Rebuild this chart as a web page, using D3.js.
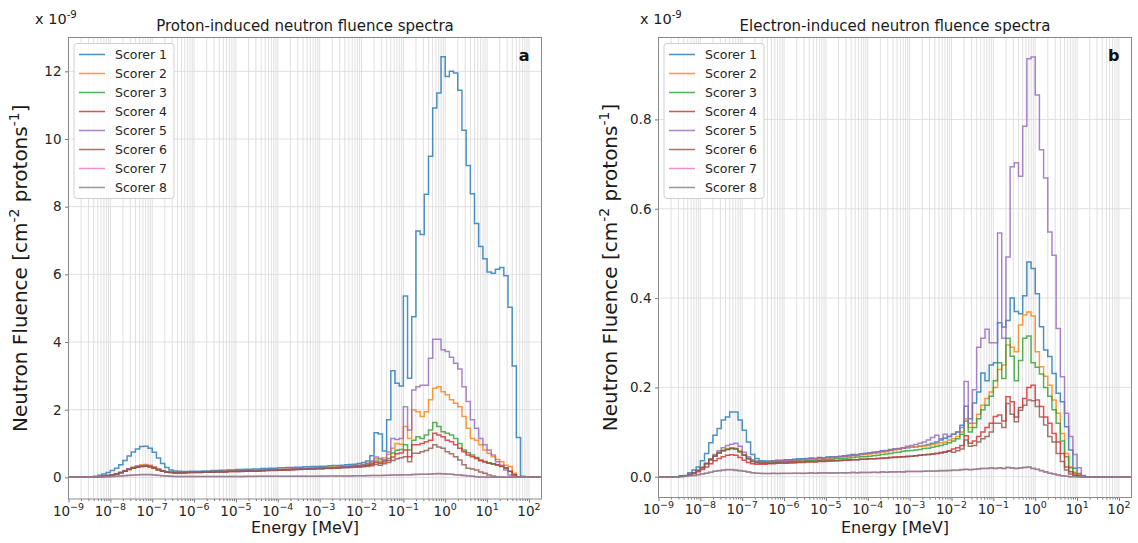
<!DOCTYPE html>
<html>
<head>
<meta charset="utf-8">
<script src="https://cdn.jsdelivr.net/npm/d3@7"></script>
<style>
  body { margin: 0; background: #ffffff; }
  text { font-family: "DejaVu Sans", sans-serif; }
</style>
</head>
<body>
<svg id="chart" width="1138" height="543"></svg>
<script>
// ---- binning: 10 logarithmic bins per decade starting at 1e-9 MeV ----
const logEnergyMin = -9;
const binsPerDecade = 10;
const binCount = 113;

const seriesNames = ["Scorer 1", "Scorer 2", "Scorer 3", "Scorer 4", "Scorer 5", "Scorer 6", "Scorer 7", "Scorer 8"];
const seriesColors = ["#1f77b4", "#ff7f0e", "#2ca02c", "#d62728", "#9467bd", "#8c564b", "#e377c2", "#7f7f7f"];

const xTickExponents = [-9, -8, -7, -6, -5, -4, -3, -2, -1, 0, 1, 2];
const protonYTicks = [0, 2, 4, 6, 8, 10, 12];
const electronYTicks = [0.0, 0.2, 0.4, 0.6, 0.8];

// ---- proton-induced fluence per bin (x 1e-9 cm^-2 protons^-1), one row per decade ----
const protonScorer1 = [
  0, 0, 0, 0, 0.005, 0.015, 0.03, 0.06, 0.1, 0.145,
  0.2, 0.27, 0.37, 0.5, 0.63, 0.75, 0.84, 0.91, 0.92, 0.86,
  0.74, 0.57, 0.41, 0.29, 0.22, 0.19, 0.18, 0.17, 0.17, 0.18,
  0.18, 0.18, 0.19, 0.19, 0.2, 0.2, 0.21, 0.21, 0.22, 0.22,
  0.23, 0.23, 0.24, 0.24, 0.25, 0.25, 0.26, 0.26, 0.27, 0.27,
  0.28, 0.28, 0.29, 0.29, 0.3, 0.3, 0.31, 0.31, 0.32, 0.32,
  0.33, 0.33, 0.34, 0.35, 0.35, 0.36, 0.37, 0.38, 0.39, 0.41,
  0.44, 0.48, 0.64, 1.32, 1.28, 0.78, 1.7, 3.15, 2.78, 2.7,
  5.36, 2.93, 4.75, 7.28, 7.18, 8.37, 9.49, 10.92, 11.36, 12.43,
  11.85, 12.0, 11.95, 11.44, 10.26, 9.22, 8.38, 7.5, 6.82, 6.46,
  6.07, 6.03, 6.15, 6.2, 5.96, 5.03, 3.29, 1.18, 0.03, 0,
  0, 0, 0
];
const protonScorer2 = [
  0, 0, 0, 0, 0.002, 0.006, 0.012, 0.022, 0.036, 0.055,
  0.08, 0.11, 0.15, 0.2, 0.25, 0.3, 0.34, 0.37, 0.38, 0.36,
  0.31, 0.25, 0.2, 0.17, 0.15, 0.14, 0.14, 0.14, 0.15, 0.15,
  0.15, 0.16, 0.16, 0.16, 0.17, 0.17, 0.17, 0.18, 0.18, 0.18,
  0.19, 0.19, 0.2, 0.2, 0.2, 0.21, 0.21, 0.22, 0.22, 0.23,
  0.23, 0.24, 0.24, 0.25, 0.25, 0.26, 0.26, 0.27, 0.27, 0.28,
  0.28, 0.29, 0.3, 0.3, 0.31, 0.32, 0.33, 0.34, 0.35, 0.36,
  0.38, 0.41, 0.45, 0.55, 0.52, 0.58, 0.68, 0.86, 1.0, 0.98,
  1.5, 1.15, 1.99, 1.94, 1.8, 1.94, 2.29, 2.63, 2.68, 2.53,
  2.44, 2.29, 2.19, 2.09, 1.8, 1.45, 1.15, 1.1, 0.96, 0.81,
  0.71, 0.61, 0.53, 0.46, 0.36, 0.32, 0.12, 0.02, 0, 0,
  0, 0, 0
];
const protonScorer3 = [
  0, 0, 0, 0, 0.002, 0.005, 0.011, 0.02, 0.034, 0.052,
  0.076, 0.105, 0.14, 0.19, 0.24, 0.28, 0.31, 0.33, 0.34, 0.32,
  0.28, 0.23, 0.19, 0.16, 0.15, 0.14, 0.14, 0.14, 0.14, 0.15,
  0.15, 0.15, 0.16, 0.16, 0.16, 0.17, 0.17, 0.17, 0.18, 0.18,
  0.18, 0.19, 0.19, 0.2, 0.2, 0.2, 0.21, 0.21, 0.22, 0.22,
  0.22, 0.23, 0.23, 0.24, 0.24, 0.25, 0.25, 0.26, 0.26, 0.27,
  0.27, 0.28, 0.28, 0.29, 0.29, 0.3, 0.31, 0.32, 0.33, 0.34,
  0.36, 0.38, 0.42, 0.48, 0.45, 0.5, 0.56, 0.72, 0.8, 0.82,
  0.96, 0.81, 1.1, 1.2, 1.15, 1.25, 1.4, 1.62, 1.5, 1.35,
  1.3, 1.25, 1.15, 1.0, 0.81, 0.73, 0.66, 0.59, 0.51, 0.47,
  0.43, 0.39, 0.36, 0.32, 0.27, 0.17, 0.07, 0.02, 0, 0,
  0, 0, 0
];
const protonScorer4 = [
  0, 0, 0, 0, 0.002, 0.005, 0.011, 0.02, 0.033, 0.05,
  0.073, 0.1, 0.135, 0.18, 0.23, 0.27, 0.3, 0.32, 0.33, 0.31,
  0.27, 0.22, 0.18, 0.15, 0.14, 0.13, 0.13, 0.13, 0.14, 0.14,
  0.14, 0.14, 0.15, 0.15, 0.15, 0.16, 0.16, 0.16, 0.17, 0.17,
  0.17, 0.18, 0.18, 0.19, 0.19, 0.19, 0.2, 0.2, 0.21, 0.21,
  0.21, 0.22, 0.22, 0.23, 0.23, 0.24, 0.24, 0.25, 0.25, 0.26,
  0.26, 0.27, 0.27, 0.28, 0.28, 0.29, 0.3, 0.31, 0.32, 0.33,
  0.33, 0.35, 0.38, 0.44, 0.42, 0.45, 0.5, 0.6, 0.7, 0.72,
  0.81, 0.61, 0.96, 0.96, 1.0, 1.05, 1.1, 1.3, 1.25, 1.2,
  1.1, 1.05, 0.96, 0.86, 0.76, 0.66, 0.61, 0.56, 0.49, 0.45,
  0.42, 0.4, 0.37, 0.33, 0.28, 0.18, 0.08, 0.02, 0, 0,
  0, 0, 0
];
const protonScorer5 = [
  0, 0, 0, 0, 0.002, 0.005, 0.011, 0.021, 0.035, 0.053,
  0.078, 0.107, 0.145, 0.195, 0.245, 0.29, 0.32, 0.345, 0.355, 0.335,
  0.29, 0.24, 0.19, 0.16, 0.15, 0.14, 0.14, 0.14, 0.14, 0.15,
  0.15, 0.15, 0.16, 0.16, 0.16, 0.17, 0.17, 0.18, 0.18, 0.18,
  0.19, 0.19, 0.19, 0.2, 0.2, 0.21, 0.21, 0.22, 0.22, 0.22,
  0.23, 0.23, 0.24, 0.24, 0.25, 0.25, 0.26, 0.26, 0.27, 0.27,
  0.28, 0.28, 0.29, 0.29, 0.3, 0.31, 0.32, 0.33, 0.34, 0.35,
  0.38, 0.42, 0.48, 0.6, 0.56, 0.52, 0.75, 1.15, 1.12, 1.15,
  2.09, 1.4, 2.58, 2.68, 2.72, 2.72, 3.52, 4.08, 4.08, 3.77,
  3.72, 3.55, 3.37, 3.2, 2.68, 2.24, 1.7, 1.45, 1.15, 0.96,
  0.81, 0.66, 0.46, 0.36, 0.22, 0.07, 0.01, 0, 0, 0,
  0, 0, 0
];
const protonScorer6 = [
  0, 0, 0, 0, 0.002, 0.005, 0.011, 0.02, 0.033, 0.05,
  0.074, 0.1, 0.137, 0.183, 0.232, 0.272, 0.302, 0.322, 0.33, 0.312,
  0.27, 0.22, 0.18, 0.15, 0.14, 0.13, 0.13, 0.13, 0.14, 0.14,
  0.14, 0.14, 0.15, 0.15, 0.15, 0.16, 0.16, 0.16, 0.17, 0.17,
  0.17, 0.17, 0.18, 0.18, 0.18, 0.19, 0.19, 0.2, 0.2, 0.2,
  0.21, 0.21, 0.22, 0.22, 0.23, 0.23, 0.24, 0.24, 0.25, 0.25,
  0.25, 0.26, 0.26, 0.27, 0.27, 0.28, 0.28, 0.29, 0.3, 0.3,
  0.31, 0.32, 0.34, 0.38, 0.36, 0.4, 0.44, 0.5, 0.55, 0.58,
  0.61, 0.46, 0.71, 0.71, 0.76, 0.79, 0.86, 0.96, 0.9, 0.86,
  0.76, 0.7, 0.61, 0.51, 0.37, 0.27, 0.25, 0.22, 0.16, 0.12,
  0.07, 0.04, 0.02, 0.01, 0.005, 0, 0, 0, 0, 0,
  0, 0, 0
];
const protonScorer7 = [
  0, 0, 0, 0, 0.001, 0.002, 0.004, 0.007, 0.011, 0.016,
  0.022, 0.03, 0.039, 0.048, 0.057, 0.065, 0.072, 0.077, 0.08, 0.078,
  0.07, 0.058, 0.046, 0.037, 0.031, 0.027, 0.025, 0.024, 0.024, 0.024,
  0.024, 0.024, 0.025, 0.025, 0.025, 0.026, 0.026, 0.026, 0.027, 0.027,
  0.027, 0.027, 0.028, 0.028, 0.028, 0.029, 0.029, 0.03, 0.03, 0.03,
  0.031, 0.031, 0.032, 0.032, 0.033, 0.033, 0.034, 0.034, 0.035, 0.035,
  0.036, 0.036, 0.037, 0.038, 0.039, 0.04, 0.041, 0.042, 0.044, 0.046,
  0.048, 0.05, 0.052, 0.056, 0.055, 0.058, 0.062, 0.068, 0.07, 0.072,
  0.078, 0.072, 0.082, 0.085, 0.088, 0.09, 0.095, 0.1, 0.105, 0.1,
  0.095, 0.088, 0.078, 0.066, 0.054, 0.042, 0.03, 0.02, 0.012, 0.006,
  0.003, 0.001, 0, 0, 0, 0, 0, 0, 0, 0,
  0, 0, 0
];
const protonScorer8 = [
  0, 0, 0, 0, 0.001, 0.002, 0.005, 0.008, 0.012, 0.018,
  0.025, 0.033, 0.042, 0.052, 0.061, 0.07, 0.077, 0.082, 0.085, 0.082,
  0.073, 0.06, 0.048, 0.038, 0.032, 0.028, 0.026, 0.025, 0.025, 0.025,
  0.025, 0.025, 0.026, 0.026, 0.026, 0.027, 0.027, 0.027, 0.028, 0.028,
  0.028, 0.028, 0.029, 0.029, 0.029, 0.03, 0.03, 0.031, 0.031, 0.031,
  0.032, 0.032, 0.033, 0.033, 0.034, 0.034, 0.035, 0.035, 0.036, 0.036,
  0.037, 0.037, 0.038, 0.039, 0.04, 0.041, 0.042, 0.043, 0.045, 0.047,
  0.049, 0.051, 0.053, 0.058, 0.056, 0.06, 0.064, 0.07, 0.072, 0.075,
  0.08, 0.074, 0.085, 0.088, 0.09, 0.093, 0.098, 0.104, 0.11, 0.104,
  0.098, 0.09, 0.08, 0.068, 0.056, 0.044, 0.032, 0.021, 0.013, 0.007,
  0.003, 0.001, 0, 0, 0, 0, 0, 0, 0, 0,
  0, 0, 0
];

// ---- electron-induced fluence per bin (x 1e-9 cm^-2 protons^-1), one row per decade ----
const electronScorer1 = [
  0, 0, 0, 0, 0, 0.001, 0.003, 0.009, 0.015, 0.022,
  0.036, 0.052, 0.076, 0.093, 0.108, 0.127, 0.134, 0.145, 0.145, 0.127,
  0.104, 0.078, 0.05, 0.041, 0.036, 0.035, 0.035, 0.036, 0.037, 0.037,
  0.038, 0.038, 0.039, 0.04, 0.04, 0.041, 0.042, 0.041, 0.043, 0.042,
  0.044, 0.045, 0.044, 0.046, 0.047, 0.048, 0.05, 0.048, 0.051, 0.052,
  0.053, 0.055, 0.056, 0.058, 0.059, 0.061, 0.062, 0.062, 0.064, 0.065,
  0.066, 0.067, 0.068, 0.07, 0.072, 0.075, 0.078, 0.082, 0.086, 0.09,
  0.095, 0.1, 0.115, 0.158, 0.13, 0.165, 0.19, 0.232, 0.215, 0.25,
  0.255, 0.345, 0.335, 0.35, 0.4, 0.37, 0.365, 0.405, 0.481, 0.466,
  0.41, 0.336, 0.284, 0.269, 0.231, 0.187, 0.168, 0.112, 0.06, 0.019,
  0.007, 0.002, 0, 0, 0, 0, 0, 0, 0, 0,
  0, 0, 0
];
const electronScorer2 = [
  0, 0, 0, 0, 0, 0.001, 0.002, 0.005, 0.009, 0.014,
  0.021, 0.03, 0.04, 0.048, 0.055, 0.06, 0.063, 0.065, 0.064, 0.058,
  0.05, 0.042, 0.036, 0.034, 0.033, 0.033, 0.034, 0.034, 0.035, 0.035,
  0.036, 0.036, 0.037, 0.037, 0.038, 0.038, 0.039, 0.04, 0.04, 0.041,
  0.041, 0.042, 0.043, 0.044, 0.045, 0.046, 0.047, 0.048, 0.049, 0.05,
  0.051, 0.052, 0.053, 0.055, 0.056, 0.058, 0.06, 0.062, 0.064, 0.066,
  0.066, 0.067, 0.068, 0.069, 0.07, 0.072, 0.074, 0.076, 0.078, 0.082,
  0.085, 0.09, 0.1, 0.13, 0.11, 0.12, 0.14, 0.16, 0.175, 0.19,
  0.2, 0.24, 0.25, 0.295, 0.29, 0.28, 0.34, 0.362, 0.369, 0.36,
  0.28, 0.246, 0.225, 0.205, 0.172, 0.142, 0.097, 0.052, 0.022, 0.01,
  0.005, 0.001, 0, 0, 0, 0, 0, 0, 0, 0,
  0, 0, 0
];
const electronScorer3 = [
  0, 0, 0, 0, 0, 0.001, 0.002, 0.005, 0.009, 0.014,
  0.02, 0.029, 0.038, 0.046, 0.053, 0.058, 0.061, 0.063, 0.062, 0.056,
  0.048, 0.04, 0.034, 0.032, 0.031, 0.031, 0.031, 0.032, 0.032, 0.033,
  0.033, 0.034, 0.034, 0.035, 0.035, 0.036, 0.036, 0.037, 0.037, 0.038,
  0.038, 0.039, 0.04, 0.04, 0.041, 0.042, 0.043, 0.044, 0.045, 0.045,
  0.046, 0.047, 0.048, 0.05, 0.051, 0.052, 0.054, 0.055, 0.057, 0.058,
  0.059, 0.06, 0.061, 0.063, 0.064, 0.066, 0.068, 0.07, 0.073, 0.076,
  0.08, 0.085, 0.095, 0.125, 0.1, 0.11, 0.13, 0.15, 0.16, 0.18,
  0.215, 0.255, 0.22, 0.31, 0.27, 0.215, 0.26, 0.31, 0.315, 0.255,
  0.245, 0.23, 0.2, 0.18, 0.15, 0.12, 0.08, 0.045, 0.02, 0.008,
  0.003, 0, 0, 0, 0, 0, 0, 0, 0, 0,
  0, 0, 0
];
const electronScorer4 = [
  0, 0, 0, 0, 0, 0.001, 0.002, 0.004, 0.007, 0.011,
  0.016, 0.022, 0.029, 0.036, 0.041, 0.045, 0.048, 0.049, 0.048, 0.043,
  0.037, 0.032, 0.029, 0.028, 0.028, 0.028, 0.029, 0.029, 0.03, 0.03,
  0.03, 0.031, 0.031, 0.032, 0.032, 0.033, 0.033, 0.033, 0.034, 0.034,
  0.035, 0.035, 0.036, 0.036, 0.037, 0.037, 0.038, 0.038, 0.039, 0.039,
  0.04, 0.04, 0.041, 0.042, 0.042, 0.043, 0.044, 0.044, 0.045, 0.046,
  0.046, 0.047, 0.048, 0.049, 0.05, 0.051, 0.052, 0.054, 0.056, 0.058,
  0.062, 0.065, 0.07, 0.092, 0.075, 0.08, 0.09, 0.1, 0.11, 0.12,
  0.135, 0.138, 0.125, 0.179, 0.168, 0.134, 0.155, 0.175, 0.2, 0.205,
  0.172, 0.157, 0.134, 0.12, 0.097, 0.078, 0.052, 0.022, 0.011, 0.004,
  0.001, 0, 0, 0, 0, 0, 0, 0, 0, 0,
  0, 0, 0
];
const electronScorer5 = [
  0, 0, 0, 0, 0, 0.001, 0.002, 0.005, 0.009, 0.014,
  0.021, 0.03, 0.04, 0.05, 0.058, 0.065, 0.07, 0.073, 0.075, 0.068,
  0.055, 0.045, 0.038, 0.035, 0.034, 0.034, 0.034, 0.035, 0.035, 0.036,
  0.036, 0.037, 0.038, 0.038, 0.039, 0.04, 0.04, 0.041, 0.042, 0.042,
  0.043, 0.044, 0.045, 0.045, 0.046, 0.047, 0.048, 0.05, 0.051, 0.052,
  0.053, 0.054, 0.056, 0.057, 0.058, 0.06, 0.062, 0.063, 0.065, 0.068,
  0.07, 0.072, 0.075, 0.078, 0.082, 0.088, 0.093, 0.085, 0.095, 0.09,
  0.095, 0.1, 0.11, 0.213, 0.12, 0.195, 0.29, 0.31, 0.33, 0.3,
  0.3, 0.546, 0.31, 0.492, 0.694, 0.703, 0.673, 0.785, 0.936, 0.94,
  0.855, 0.732, 0.669, 0.548, 0.496, 0.332, 0.224, 0.142, 0.09, 0.05,
  0.02, 0.003, 0, 0, 0, 0, 0, 0, 0, 0,
  0, 0, 0
];
const electronScorer6 = [
  0, 0, 0, 0, 0, 0.001, 0.002, 0.005, 0.009, 0.014,
  0.02, 0.029, 0.038, 0.046, 0.053, 0.058, 0.061, 0.063, 0.062, 0.056,
  0.048, 0.04, 0.034, 0.032, 0.031, 0.031, 0.031, 0.031, 0.032, 0.032,
  0.032, 0.032, 0.033, 0.033, 0.033, 0.034, 0.034, 0.034, 0.035, 0.035,
  0.035, 0.036, 0.036, 0.037, 0.037, 0.038, 0.038, 0.038, 0.039, 0.039,
  0.04, 0.04, 0.041, 0.041, 0.042, 0.043, 0.043, 0.044, 0.045, 0.045,
  0.046, 0.047, 0.048, 0.049, 0.05, 0.051, 0.052, 0.053, 0.055, 0.057,
  0.055, 0.058, 0.062, 0.082, 0.068, 0.07, 0.078, 0.085, 0.09, 0.1,
  0.12, 0.12, 0.11, 0.164, 0.14, 0.123, 0.149, 0.16, 0.172, 0.17,
  0.157, 0.134, 0.116, 0.09, 0.078, 0.052, 0.034, 0.015, 0.006, 0.002,
  0, 0, 0, 0, 0, 0, 0, 0, 0, 0,
  0, 0, 0
];
const electronScorer7 = [
  0, 0, 0, 0, 0, 0, 0.001, 0.002, 0.003, 0.004,
  0.006, 0.008, 0.01, 0.012, 0.013, 0.014, 0.015, 0.015, 0.014, 0.013,
  0.012, 0.01, 0.009, 0.008, 0.007, 0.007, 0.007, 0.007, 0.007, 0.007,
  0.007, 0.007, 0.008, 0.008, 0.007, 0.008, 0.008, 0.008, 0.008, 0.008,
  0.008, 0.008, 0.008, 0.009, 0.008, 0.009, 0.009, 0.009, 0.009, 0.009,
  0.009, 0.01, 0.009, 0.01, 0.01, 0.01, 0.01, 0.011, 0.01, 0.011,
  0.011, 0.011, 0.011, 0.012, 0.012, 0.012, 0.013, 0.013, 0.013, 0.014,
  0.014, 0.014, 0.015, 0.016, 0.015, 0.016, 0.017, 0.018, 0.018, 0.019,
  0.018, 0.019, 0.018, 0.02, 0.019, 0.018, 0.019, 0.02, 0.021, 0.018,
  0.016, 0.013, 0.01, 0.008, 0.006, 0.004, 0.002, 0.001, 0, 0,
  0, 0, 0, 0, 0, 0, 0, 0, 0, 0,
  0, 0, 0
];
const electronScorer8 = [
  0, 0, 0, 0, 0, 0, 0.001, 0.002, 0.003, 0.005,
  0.006, 0.008, 0.01, 0.012, 0.014, 0.015, 0.016, 0.016, 0.015, 0.014,
  0.012, 0.011, 0.009, 0.008, 0.008, 0.007, 0.007, 0.008, 0.007, 0.008,
  0.008, 0.008, 0.008, 0.008, 0.008, 0.008, 0.009, 0.008, 0.009, 0.009,
  0.009, 0.009, 0.009, 0.009, 0.009, 0.009, 0.01, 0.009, 0.01, 0.01,
  0.01, 0.01, 0.01, 0.011, 0.01, 0.011, 0.011, 0.011, 0.011, 0.012,
  0.012, 0.012, 0.012, 0.012, 0.013, 0.013, 0.013, 0.014, 0.014, 0.014,
  0.015, 0.015, 0.016, 0.017, 0.016, 0.017, 0.018, 0.019, 0.019, 0.02,
  0.019, 0.02, 0.019, 0.021, 0.02, 0.019, 0.02, 0.021, 0.022, 0.019,
  0.017, 0.014, 0.011, 0.008, 0.006, 0.004, 0.002, 0.001, 0, 0,
  0, 0, 0, 0, 0, 0, 0, 0, 0, 0,
  0, 0, 0
];

const protonSeries = [protonScorer1, protonScorer2, protonScorer3, protonScorer4,
                      protonScorer5, protonScorer6, protonScorer7, protonScorer8];
const electronSeries = [electronScorer1, electronScorer2, electronScorer3, electronScorer4,
                        electronScorer5, electronScorer6, electronScorer7, electronScorer8];

// bin edges in MeV
const binEdges = d3.range(binCount + 1).map(i => Math.pow(10, logEnergyMin + i / binsPerDecade));

const svg = d3.select("#chart");
const defs = svg.append("defs");

// text made of normal and superscript runs; the baseline is restored after each superscript
function supText(sel, parts, size) {
  let raised = false;
  parts.forEach(([str, sup]) => {
    const t = sel.append("tspan").text(str);
    if (sup) {
      t.attr("font-size", size * 0.7).attr("dy", raised ? 0 : -size * 0.42);
      raised = true;
    } else {
      t.attr("dy", raised ? size * 0.42 : 0);
      raised = false;
    }
  });
}

function drawPanel(cfg) {
  const b = cfg.box;
  const x = d3.scaleLog().domain([binEdges[0], binEdges[binCount]]).range([b.left, b.right]);
  const y = d3.scaleLinear().domain(cfg.yDomain).range([b.bottom, b.top]);
  const g = svg.append("g");

  defs.append("clipPath").attr("id", "clip-" + cfg.id)
    .append("rect").attr("x", b.left).attr("y", b.top)
    .attr("width", b.right - b.left).attr("height", b.bottom - b.top);

  // vertical grid at every integer multiple of each decade
  const gridX = [];
  for (let e = -9; e <= 2; e++) {
    for (let k = 1; k <= 9; k++) {
      const v = k * Math.pow(10, e);
      if (v >= binEdges[0] && v <= binEdges[binCount]) gridX.push(v);
    }
  }
  g.append("g").selectAll("line").data(gridX).join("line")
    .attr("x1", d => x(d)).attr("x2", d => x(d))
    .attr("y1", b.top).attr("y2", b.bottom)
    .attr("stroke", "#dcdcdc").attr("stroke-width", 0.9);

  g.append("g").selectAll("line").data(cfg.yTicks).join("line")
    .attr("x1", b.left).attr("x2", b.right)
    .attr("y1", d => y(d)).attr("y2", d => y(d))
    .attr("stroke", "#dcdcdc").attr("stroke-width", 0.9);

  // step lines
  const step = d3.line().curve(d3.curveStepAfter)
    .x(d => x(d[0])).y(d => y(d[1]));
  const lines = g.append("g").attr("clip-path", "url(#clip-" + cfg.id + ")");
  cfg.series.forEach((vals, si) => {
    const pts = binEdges.map((e, i) => [e, vals[Math.min(i, vals.length - 1)]]);
    lines.append("path").datum(pts)
      .attr("d", step)
      .attr("fill", "none")
      .attr("stroke", seriesColors[si])
      .attr("stroke-opacity", 0.8)
      .attr("stroke-width", 1.5)
      .attr("stroke-linejoin", "miter");
  });

  // axes
  const majors = xTickExponents.map(e => Math.pow(10, e));
  const minors = gridX.filter(v => !majors.some(m => Math.abs(m - v) / v < 1e-9));
  const xAxis = g.append("g").attr("transform", `translate(0,${b.bottom})`)
    .call(d3.axisBottom(x).tickValues(majors).tickSize(3.5).tickFormat(""));
  const xMinor = g.append("g").attr("transform", `translate(0,${b.bottom})`)
    .call(d3.axisBottom(x).tickValues(minors).tickSize(2).tickFormat(""));
  const yAxis = g.append("g").attr("transform", `translate(${b.left},0)`)
    .call(d3.axisLeft(y).tickValues(cfg.yTicks).tickSize(3.5).tickPadding(3.5).tickFormat(cfg.yFormat));
  [xAxis, xMinor, yAxis].forEach(a => {
    a.select(".domain").remove();
    a.selectAll(".tick line").attr("stroke", "#555").attr("stroke-width", 0.8);
  });
  yAxis.selectAll(".tick text").attr("font-size", 13.5).attr("fill", "#262626")
    .attr("font-family", '"DejaVu Sans", sans-serif');

  // decade labels as 10 with a superscript exponent
  xTickExponents.forEach(e => {
    const t = g.append("text")
      .attr("x", x(Math.pow(10, e)))
      .attr("y", b.bottom + 16.5)
      .attr("text-anchor", "middle")
      .attr("font-size", 13.5).attr("fill", "#262626");
    t.append("tspan").text("10");
    t.append("tspan").text(e < 0 ? "\u2212" + (-e) : String(e))
      .attr("font-size", 9.5).attr("dy", -5.7);
  });

  // frame
  g.append("rect").attr("x", b.left).attr("y", b.top)
    .attr("width", b.right - b.left).attr("height", b.bottom - b.top)
    .attr("fill", "none").attr("stroke", "#8a8a8a").attr("stroke-width", 1);

  const cx = (b.left + b.right) / 2;
  // title
  g.append("text").attr("x", cx).attr("y", 31)
    .attr("text-anchor", "middle").attr("font-size", 15).attr("fill", "#1a1a1a")
    .text(cfg.title);
  // scale factor
  const sf = g.append("text").attr("x", cfg.scaleX).attr("y", 24)
    .attr("font-size", 14.5).attr("fill", "#1a1a1a");
  supText(sf, [["x 10", false], ["-9", true]], 14.5);
  // panel letter
  g.append("text").attr("x", b.right - 12).attr("y", 61)
    .attr("text-anchor", "end").attr("font-size", 16).attr("font-weight", "bold")
    .attr("fill", "#111").text(cfg.letter);
  // axis labels
  g.append("text").attr("x", cx).attr("y", 533)
    .attr("text-anchor", "middle").attr("font-size", 16).attr("fill", "#1a1a1a")
    .text("Energy [MeV]");
  const yl = g.append("text")
    .attr("transform", `translate(${cfg.ylabelX},${(b.top + b.bottom) / 2}) rotate(-90)`)
    .attr("text-anchor", "middle").attr("font-size", 20).attr("fill", "#1a1a1a");
  supText(yl, [["Neutron Fluence [cm", false], ["-2", true], [" protons", false], ["-1", true], ["]", false]], 20);

  // legend
  const lg = g.append("g").attr("transform", `translate(${b.left + 5.5},${b.top + 6})`);
  lg.append("rect").attr("width", 100).attr("height", 155).attr("rx", 3)
    .attr("fill", "#fff").attr("fill-opacity", 0.85)
    .attr("stroke", "#d0d0d0").attr("stroke-width", 1);
  seriesNames.forEach((name, i) => {
    const yy = 11 + i * 19;
    lg.append("line").attr("x1", 5).attr("x2", 31).attr("y1", yy).attr("y2", yy)
      .attr("stroke", seriesColors[i]).attr("stroke-opacity", 0.8).attr("stroke-width", 1.5);
    lg.append("text").attr("x", 41).attr("y", yy + 4.5)
      .attr("font-size", 12.5).attr("fill", "#262626").text(name);
  });
}

drawPanel({
  id: "proton",
  box: { left: 68.5, right: 541.5, top: 37.5, bottom: 499 },
  yDomain: [-0.64, 13.0],
  yTicks: protonYTicks,
  yFormat: d3.format("d"),
  series: protonSeries,
  title: "Proton-induced neutron fluence spectra",
  letter: "a",
  scaleX: 35,
  ylabelX: 27
});

drawPanel({
  id: "electron",
  box: { left: 658.5, right: 1131.5, top: 37.5, bottom: 497.5 },
  yDomain: [-0.0465, 0.9835],
  yTicks: electronYTicks,
  yFormat: d3.format(".1f"),
  series: electronSeries,
  title: "Electron-induced neutron fluence spectra",
  letter: "b",
  scaleX: 640,
  ylabelX: 617
});
</script>
</body>
</html>
